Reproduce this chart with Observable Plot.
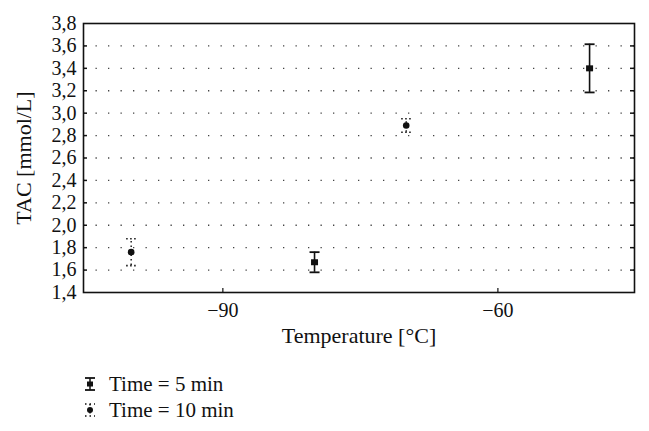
<!DOCTYPE html>
<html>
<head>
<meta charset="utf-8">
<script src="https://cdn.jsdelivr.net/npm/d3@7"></script>
<script src="https://cdn.jsdelivr.net/npm/@observablehq/plot@0.6"></script>
<style>
  body { margin: 0; background: #fff; font-family: "Liberation Serif", "DejaVu Serif", serif; }
  #legend { margin-left: 83px; padding-top: 11px; font-size: 21px; color: #111; }
  .row { display: flex; align-items: center; height: 26px; }
  .row svg { margin-right: 12px; }
</style>
</head>
<body>
<div id="chart"></div>
<div id="legend"></div>
<script>
// Data
const temps5 = [-80, -50];
const mean5 = [1.67, 3.40];
const err5 = [0.09, 0.215];

const temps10 = [-100, -70];
const mean10 = [1.76, 2.89];
const err10 = [0.12, 0.06];

const xTicks = [-90, -60];
const yTicks = [1.4, 1.6, 1.8, 2.0, 2.2, 2.4, 2.6, 2.8, 3.0, 3.2, 3.4, 3.6, 3.8];
const gridTicks = [1.6, 1.8, 2.0, 2.2, 2.4, 2.6, 2.8, 3.0, 3.2, 3.4, 3.6];
const seriesNames = ["Time = 5 min", "Time = 10 min"];

const s5 = temps5.map((t, i) => ({x: t, y: mean5[i], lo: mean5[i] - err5[i], hi: mean5[i] + err5[i]}));
const s10 = temps10.map((t, i) => ({x: t, y: mean10[i], lo: mean10[i] - err10[i], hi: mean10[i] + err10[i]}));

const W = 649, H = 360;
const mL = 83, mR = 15, mT = 23, mB = 68;
const innerW = W - mL - mR, innerH = H - mT - mB;

const cap = {draw(ctx, size) { ctx.moveTo(-5, 0); ctx.lineTo(5, 0); }};
const sq = {draw(ctx, size) { ctx.rect(-3.5, -3, 7, 6); }};

const chart = Plot.plot({
  width: W, height: H,
  marginLeft: mL, marginRight: mR, marginTop: mT, marginBottom: mB,
  style: {fontFamily: "'Liberation Serif', 'DejaVu Serif', serif", background: "#fff", color: "#111"},
  x: {domain: [-105.2, -45.1]},
  y: {domain: [1.4, 3.8]},
  marks: [
    Plot.ruleY(gridTicks, {stroke: "#444", strokeWidth: 1.3, strokeDasharray: "1.3,11.2", strokeDashoffset: 0}),
    // inward ticks
    Plot.tickY(gridTicks, {stroke: "#111", strokeWidth: 1.5, insetRight: innerW - 4}),
    Plot.tickY(gridTicks, {stroke: "#111", strokeWidth: 1.5, insetLeft: innerW - 4}),
    Plot.tickX(xTicks, {stroke: "#111", strokeWidth: 1.2, insetTop: innerH - 4}),
    Plot.axisY(yTicks, {tickSize: 0, tickPadding: 7, fontSize: 20, tickFormat: d => d.toFixed(1).replace(".", ","),
      label: null}),
    Plot.axisY({ticks: [], tickSize: 0, fontSize: 22,
      label: "TAC [mmol/L]", labelAnchor: "center", labelOffset: 68, labelArrow: "none"}),
    Plot.axisX(xTicks, {tickSize: 0, tickPadding: 10, fontSize: 20, label: null}),
    Plot.axisX({ticks: [], tickSize: 0, fontSize: 22,
      label: "Temperature [°C]", labelAnchor: "center", labelOffset: 50, labelArrow: "none"}),
    Plot.frame({stroke: "#111", strokeWidth: 1.6}),
    // Time = 5 min: solid error bars, square marker
    Plot.ruleX(s5, {x: "x", y1: "lo", y2: "hi", stroke: "#111", strokeWidth: 1.6}),
    Plot.dot(s5, {x: "x", y: "hi", symbol: cap, stroke: "#111", strokeWidth: 1.8}),
    Plot.dot(s5, {x: "x", y: "lo", symbol: cap, stroke: "#111", strokeWidth: 1.8}),
    Plot.dot(s5, {x: "x", y: "y", symbol: sq, fill: "#111", stroke: "none"}),
    // Time = 10 min: dotted error bars, circle marker
    Plot.ruleX(s10, {x: "x", y1: "lo", y2: "hi", stroke: "#111", strokeWidth: 1.4, strokeDasharray: "1.5,3"}),
    Plot.dot(s10, {x: "x", y: "hi", symbol: cap, stroke: "#111", strokeWidth: 1.6, strokeDasharray: "1.5,2.5"}),
    Plot.dot(s10, {x: "x", y: "lo", symbol: cap, stroke: "#111", strokeWidth: 1.6, strokeDasharray: "1.5,2.5"}),
    Plot.dot(s10, {x: "x", y: "y", r: 3.3, fill: "#111", stroke: "none"})
  ]
});
document.getElementById("chart").appendChild(chart);

// Legend
const legend = document.getElementById("legend");
const glyphs = [
  `<svg width="14" height="16"><line x1="7" y1="2" x2="7" y2="14" stroke="#111" stroke-width="1.5"/><line x1="2" y1="2" x2="12" y2="2" stroke="#111" stroke-width="1.8"/><line x1="2" y1="14" x2="12" y2="14" stroke="#111" stroke-width="1.8"/><rect x="4" y="5.5" width="6" height="5" fill="#111"/></svg>`,
  `<svg width="14" height="16"><line x1="7" y1="2" x2="7" y2="14" stroke="#111" stroke-width="1.4" stroke-dasharray="1.5,2.5"/><line x1="2" y1="2" x2="12" y2="2" stroke="#111" stroke-width="1.6" stroke-dasharray="1.5,3"/><line x1="2" y1="14" x2="12" y2="14" stroke="#111" stroke-width="1.6" stroke-dasharray="1.5,3"/><circle cx="7" cy="8" r="3" fill="#111"/></svg>`
];
seriesNames.forEach((name, i) => {
  const row = document.createElement("div");
  row.className = "row";
  row.innerHTML = glyphs[i] + `<span>${name}</span>`;
  legend.appendChild(row);
});
</script>
</body>
</html>
